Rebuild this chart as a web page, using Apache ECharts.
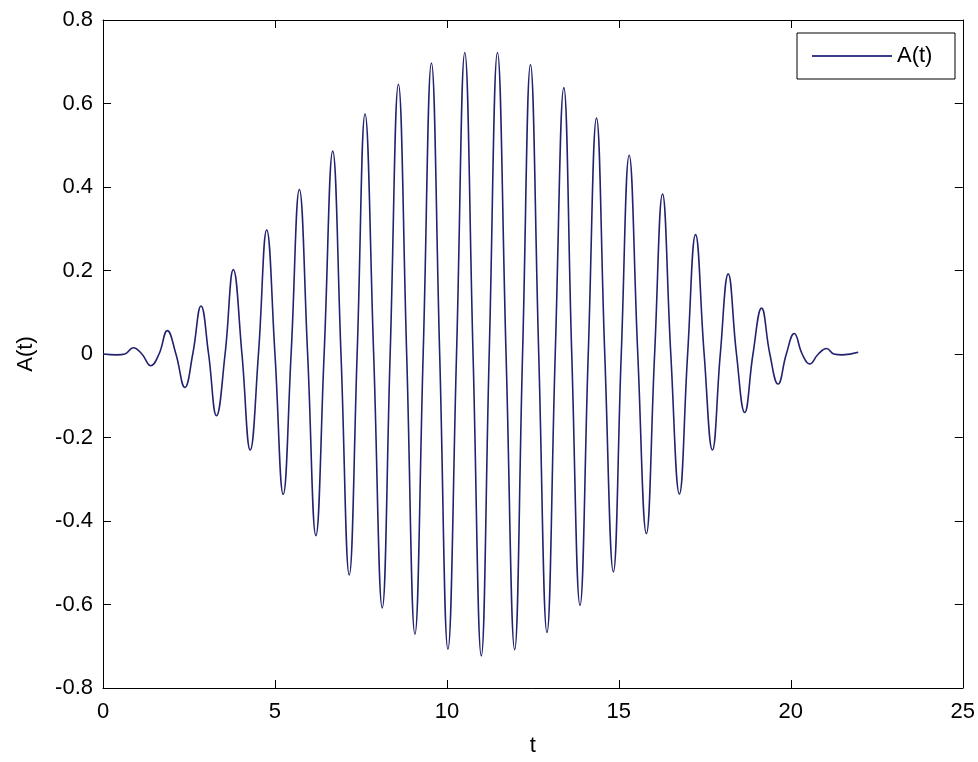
<!DOCTYPE html>
<html>
<head>
<meta charset="utf-8">
<script src="https://cdn.jsdelivr.net/npm/echarts@6/dist/echarts.min.js"></script>
<style>
html,body{margin:0;padding:0;background:#fff;}
#chart{width:978px;height:762px;}
</style>
</head>
<body>
<div id="chart"></div>
<script>
// time values (extrema and zero crossings)
var tValues = [0, 0.40, 0.64, 0.88, 1.13, 1.39, 1.63, 1.87, 2.12, 2.38, 2.61, 2.85, 3.07, 3.30, 3.55, 3.79, 4.04, 4.28, 4.52, 4.76, 5.00, 5.24, 5.47, 5.71, 5.95, 6.19, 6.43, 6.68, 6.92, 7.16, 7.39, 7.62, 7.87, 8.12, 8.35, 8.59, 8.83, 9.07, 9.31, 9.55, 9.79, 10.03, 10.28, 10.52, 10.76, 11.00, 11.23, 11.47, 11.72, 11.97, 12.20, 12.43, 12.67, 12.91, 13.15, 13.40, 13.63, 13.87, 14.11, 14.35, 14.59, 14.84, 15.07, 15.30, 15.55, 15.80, 16.04, 16.27, 16.51, 16.76, 17.00, 17.23, 17.48, 17.72, 17.95, 18.18, 18.42, 18.66, 18.90, 19.15, 19.39, 19.63, 19.87, 20.10, 20.33, 20.55, 20.80, 21.04, 21.25, 21.50, 21.96];
// A(t) values
var aValues = [0, -0.002, 0, 0.015, 0, -0.028, 0, 0.056, 0, -0.080, 0, 0.115, 0, -0.148, 0, 0.202, 0, -0.230, 0, 0.297, 0, -0.336, 0, 0.394, 0, -0.435, 0, 0.486, 0, -0.529, 0, 0.575, 0, -0.608, 0, 0.646, 0, -0.671, 0, 0.697, 0, -0.707, 0, 0.722, 0, -0.723, 0, 0.722, 0, -0.708, 0, 0.693, 0, -0.667, 0, 0.638, 0, -0.602, 0, 0.565, 0, -0.522, 0, 0.476, 0, -0.430, 0, 0.383, 0, -0.335, 0, 0.286, 0, -0.230, 0, 0.192, 0, -0.140, 0, 0.110, 0, -0.072, 0, 0.049, 0, -0.024, 0, 0.013, 0, -0.002, 0.004];
var xTicks = [0, 5, 10, 15, 20, 25];
var yTicks = [-0.8, -0.6, -0.4, -0.2, 0, 0.2, 0.4, 0.6, 0.8];
var seriesName = 'A(t)';

var data = tValues.map(function (t, i) { return [t, aValues[i]]; });
var font = 'Liberation Sans, Arial, Helvetica, sans-serif';
function axisCommon(extra) {
  return Object.assign({
    axisLine: { show: true, onZero: false, lineStyle: { color: '#000', width: 1 } },
    axisTick: { show: true, inside: true, length: 8, lineStyle: { color: '#000' } },
    splitLine: { show: false }
  }, extra);
}

var chart = echarts.init(document.getElementById('chart'));
chart.setOption({
  backgroundColor: '#ffffff',
  animation: false,
  grid: { left: 103, right: 15, top: 20, bottom: 66, containLabel: false },
  legend: {
    data: [{ name: seriesName, icon: 'rect', itemStyle: { color: '#3c3c8e' } }],
    left: 797, top: 33,
    orient: 'horizontal',
    itemWidth: 80, itemHeight: 2,
    padding: [11, 14, 11, 15],
    borderColor: '#000', borderWidth: 1,
    backgroundColor: '#fff',
    textStyle: { fontFamily: font, fontSize: 22, color: '#000', lineHeight: 24, width: 44 }
  },
  xAxis: [
    axisCommon({
      type: 'value', min: xTicks[0], max: xTicks[xTicks.length - 1], interval: 5,
      name: 't', nameLocation: 'middle', nameGap: 47,
      nameTextStyle: { fontFamily: font, fontSize: 22, color: '#000' },
      axisLabel: { fontFamily: font, fontSize: 22, color: '#000', margin: 13 }
    }),
    axisCommon({
      type: 'value', position: 'top', min: xTicks[0], max: xTicks[xTicks.length - 1], interval: 5,
      axisLabel: { show: false }
    })
  ],
  yAxis: [
    axisCommon({
      type: 'value', min: yTicks[0], max: yTicks[yTicks.length - 1], interval: 0.2,
      name: 'A(t)', nameLocation: 'middle', nameGap: 66,
      nameTextStyle: { fontFamily: font, fontSize: 22, color: '#000' },
      axisLabel: {
        fontFamily: font, fontSize: 22, color: '#000', margin: 10,
        formatter: function (v) { return String(Math.round(v * 10) / 10); }
      }
    }),
    axisCommon({
      type: 'value', position: 'right', min: yTicks[0], max: yTicks[yTicks.length - 1], interval: 0.2,
      axisLabel: { show: false }
    })
  ],
  series: [{
    name: seriesName,
    type: 'line',
    data: data,
    symbol: 'none',
    smooth: 0.45,
    color: '#22226e',
    lineStyle: { color: '#22226e', width: 1.6 },
    xAxisIndex: 0, yAxisIndex: 0
  }]
});
</script>
</body>
</html>
